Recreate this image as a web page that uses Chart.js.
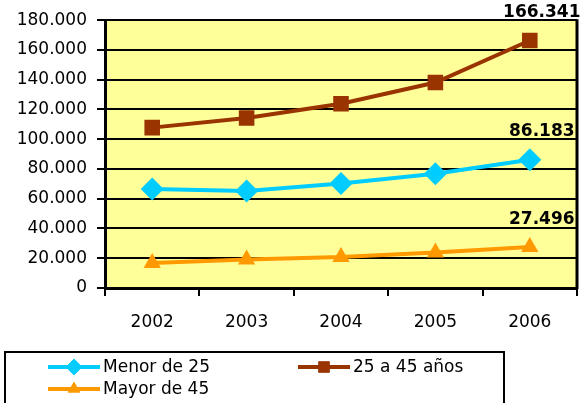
<!DOCTYPE html>
<html>
<head>
<meta charset="utf-8">
<script src="https://cdn.jsdelivr.net/npm/chart.js@4/dist/chart.umd.min.js"></script>
<style>
  html, body { margin: 0; padding: 0; background: #fff; }
  #wrap { width: 581px; height: 403px; position: relative; }
</style>
</head>
<body>
<div id="wrap"><canvas id="edad-chart"></canvas></div>
<script>
// data ------
const years = ['2002', '2003', '2004', '2005', '2006'];
const menor25 = [66500, 65200, 70300, 76800, 86183];
const entre25y45 = [107800, 114200, 123800, 138100, 166341];
const mayor45 = [16800, 19200, 20800, 23900, 27496];
const seriesNames = ['Menor de 25', '25 a 45 años', 'Mayor de 45'];
const yTicks = [0, 20000, 40000, 60000, 80000, 100000, 120000, 140000, 160000, 180000];

const FONT = 'DejaVu Sans';

function fmt(v) {
  return String(v).replace(/\B(?=(\d{3})+(?!\d))/g, '.');
}

// plot area background + right border ------
const plotBg = {
  id: 'plotBg',
  beforeDraw(chart) {
    const a = chart.chartArea, c = chart.ctx;
    c.save();
    c.fillStyle = '#FFFF99';
    c.fillRect(a.left, a.top, a.right - a.left, a.bottom - a.top);
    c.restore();
  },
  afterDatasetsDraw(chart) {
    const a = chart.chartArea, c = chart.ctx;
    c.save();
    c.strokeStyle = '#000';
    c.lineWidth = 3;
    c.beginPath();
    c.moveTo(a.right, a.top - 1);
    c.lineTo(a.right, a.bottom + 1);
    c.stroke();
    c.restore();
  }
};

// value label on last point ------
const lastLabels = {
  id: 'lastLabels',
  afterDatasetsDraw(chart) {
    const c = chart.ctx;
    c.save();
    c.font = 'bold 17px "' + FONT + '"';
    c.fillStyle = '#000';
    c.textAlign = 'center';
    c.textBaseline = 'middle';
    chart.data.datasets.forEach((ds, i) => {
      const pts = chart.getDatasetMeta(i).data;
      const p = pts[pts.length - 1];
      c.fillText(fmt(ds.data[ds.data.length - 1]), p.x + 12, p.y - 28);
    });
    c.restore();
  }
};

// legend box below ------
const boxLegend = {
  id: 'boxLegend',
  afterDraw(chart) {
    const c = chart.ctx;
    const spots = [[48, 367], [298, 367], [48, 389]];
    c.save();
    c.strokeStyle = '#000';
    c.lineWidth = 2;
    c.strokeRect(5, 352, 499, 60);
    chart.data.datasets.forEach((ds, i) => {
      const [x, y] = spots[i];
      c.strokeStyle = ds.borderColor;
      c.lineWidth = 4;
      c.beginPath();
      c.moveTo(x, y);
      c.lineTo(x + 52, y);
      c.stroke();
      c.fillStyle = ds.borderColor;
      Chart.helpers.drawPoint(c, {pointStyle: ds.pointStyle, radius: ds.pointRadius * 0.72, borderWidth: 0}, x + 26, y);
      c.fill();
      c.fillStyle = '#000';
      c.font = '17px "' + FONT + '"';
      c.textAlign = 'left';
      c.textBaseline = 'middle';
      c.fillText(ds.label, x + 55, y + 1);
    });
    c.restore();
  }
};

const ctx = document.getElementById('edad-chart').getContext('2d');

function serie(label, data, color, style, r) {
  return {
    label: label,
    data: data,
    borderColor: color,
    backgroundColor: color,
    pointBackgroundColor: color,
    pointBorderColor: color,
    pointBorderWidth: 0,
    borderWidth: 4,
    pointStyle: style,
    pointRadius: r,
    pointHoverRadius: r,
    tension: 0,
    fill: false
  };
}

new Chart(ctx, {
  type: 'line',
  data: {
    labels: years,
    datasets: [
      serie(seriesNames[0], menor25, '#00CCFF', 'rectRot', 11.5),
      serie(seriesNames[1], entre25y45, '#993300', 'rect', 11),
      serie(seriesNames[2], mayor45, '#FF9900', 'triangle', 10)
    ]
  },
  options: {
    responsive: true,
    maintainAspectRatio: false,
    animation: false,
    layout: { autoPadding: false, padding: { top: 19, right: 4, left: 0, bottom: 0 } },
    plugins: {
      legend: { display: false },
      tooltip: { enabled: false }
    },
    scales: {
      x: {
        offset: true,
        afterFit(s) { s.height = 115; s.paddingRight = 0; s.paddingLeft = 0; },
        grid: {
          offset: true,
          drawOnChartArea: false,
          color: '#000',
          lineWidth: 2,
          tickLength: 8
        },
        border: { color: '#000', width: 3 },
        ticks: {
          color: '#000',
          padding: 16,
          maxRotation: 0,
          font: { family: FONT, size: 17 }
        }
      },
      y: {
        min: 0,
        max: 180000,
        afterFit(s) { s.width = 105; },
        afterBuildTicks(s) { s.ticks = yTicks.map(v => ({ value: v })); },
        grid: {
          color: '#000',
          lineWidth: 2,
          tickLength: 8
        },
        border: { color: '#000', width: 3 },
        ticks: {
          color: '#000',
          padding: 10,
          font: { family: FONT, size: 17 },
          callback: v => fmt(v)
        }
      }
    }
  },
  plugins: [plotBg, lastLabels, boxLegend]
});
</script>
</body>
</html>
